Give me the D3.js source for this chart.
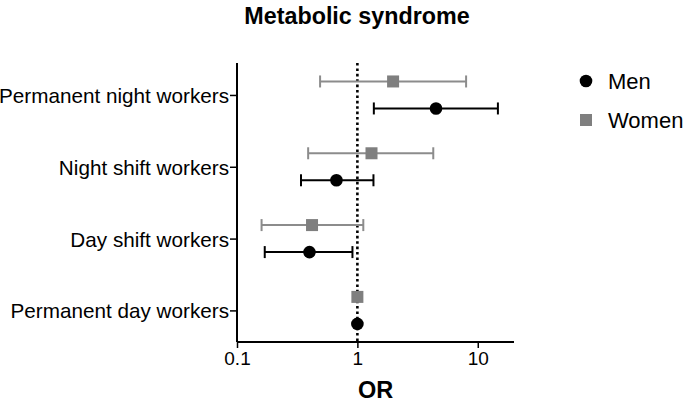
<!DOCTYPE html>
<html>
<head>
<meta charset="utf-8">
<script src="https://cdn.jsdelivr.net/npm/d3@7"></script>
<style>
  html, body { margin: 0; padding: 0; background: #fff; }
  svg text { font-family: "Liberation Sans", Arial, Helvetica, sans-serif; }
</style>
</head>
<body>
<svg id="chart" width="687" height="404"></svg>
<script>
// ---- data ----
const categories = ["Permanent day workers", "Day shift workers", "Night shift workers", "Permanent night workers"];
const menOR    = [1, 0.40, 0.67, 4.5];
const menLow   = [null, 0.17, 0.34, 1.37];
const menHigh  = [null, 0.91, 1.36, 14.7];
const womenOR   = [1, 0.42, 1.31, 1.98];
const womenLow  = [null, 0.16, 0.39, 0.49];
const womenHigh = [null, 1.12, 4.27, 8.0];
const xTicks = [0.1, 1, 10];
const seriesNames = ["Men", "Women"];

(function () {
// ---- layout ----
const svg = d3.select("#chart");
const pL = 237, pR = 514, pT = 63, pB = 342;

const x = d3.scaleLog().domain([0.1, 20]).range([pL, pR]);
const y = d3.scaleLinear().domain([-0.44, 3.445]).range([pB, pT]);

const black = "#000";
const greyMark = "#7f7f7f";
const greyLine = "#8c8c8c";

// title
svg.append("text")
  .attr("x", 357).attr("y", 24)
  .attr("text-anchor", "middle")
  .style("font-size", "23.3px").style("font-weight", "bold")
  .text("Metabolic syndrome");

// axes
const yAxis = d3.axisLeft(y)
  .tickValues(d3.range(categories.length))
  .tickFormat(i => categories[i])
  .tickSize(7).tickPadding(1);
const gy = svg.append("g").attr("transform", `translate(${pL},0)`).call(yAxis);
gy.select(".domain").attr("d", `M0,${pT}V${pB}`).attr("stroke-width", 2);
gy.selectAll(".tick line").attr("stroke-width", 1.5);
gy.selectAll(".tick text").style("font-size", "20.7px").attr("fill", "#000").attr("dy", "0.36em");

const xAxis = d3.axisBottom(x)
  .tickValues(xTicks)
  .tickFormat(d => String(d))
  .tickSize(6).tickPadding(4);
const gx = svg.append("g").attr("transform", `translate(0,${pB})`).call(xAxis);
gx.select(".domain").attr("d", `M${pL},0H${pR}`).attr("stroke-width", 2);
gx.selectAll(".tick line").attr("stroke-width", 1.5);
gx.selectAll(".tick text").style("font-size", "19px").attr("fill", "#000");

svg.append("text")
  .attr("x", (pL + pR) / 2).attr("y", 398)
  .attr("text-anchor", "middle")
  .style("font-size", "23.5px").style("font-weight", "bold")
  .text("OR");

// reference line at OR = 1
svg.append("line")
  .attr("x1", x(1)).attr("x2", x(1))
  .attr("y1", pT).attr("y2", pB)
  .attr("stroke", black).attr("stroke-width", 2.6)
  .attr("stroke-dasharray", "2.6,2.8");

// series
const series = [
  { name: "Men", or: menOR, lo: menLow, hi: menHigh, off: 13.5, line: black, mark: black, shape: "circle" },
  { name: "Women", or: womenOR, lo: womenLow, hi: womenHigh, off: -13.5, line: greyLine, mark: greyMark, shape: "square" }
];
const cap = 6;

series.forEach(s => {
  const g = svg.append("g");
  categories.forEach((c, i) => {
    const cy = y(i) + s.off;
    if (s.lo[i] != null) {
      g.append("line").attr("x1", x(s.lo[i])).attr("x2", x(s.hi[i]))
        .attr("y1", cy).attr("y2", cy).attr("stroke", s.line).attr("stroke-width", 2);
      [s.lo[i], s.hi[i]].forEach(v => {
        g.append("line").attr("x1", x(v)).attr("x2", x(v))
          .attr("y1", cy - cap).attr("y2", cy + cap)
          .attr("stroke", s.line).attr("stroke-width", 2);
      });
    }
    if (s.shape === "circle") {
      g.append("circle").attr("cx", x(s.or[i])).attr("cy", cy).attr("r", 6.3).attr("fill", s.mark);
    } else {
      g.append("rect").attr("x", x(s.or[i]) - 6).attr("y", cy - 6)
        .attr("width", 12).attr("height", 12).attr("fill", s.mark);
    }
  });
});

// legend
const legY = [81, 120];
series.forEach((s, k) => {
  const ly = legY[k];
  if (s.shape === "circle") {
    svg.append("circle").attr("cx", 586).attr("cy", ly).attr("r", 6.3).attr("fill", s.mark);
  } else {
    svg.append("rect").attr("x", 580).attr("y", ly - 6).attr("width", 12).attr("height", 12).attr("fill", s.mark);
  }
  svg.append("text").attr("x", 608).attr("y", ly).attr("dy", "0.36em")
    .style("font-size", "22px").text(seriesNames[k]);
});
})();
</script>
</body>
</html>
